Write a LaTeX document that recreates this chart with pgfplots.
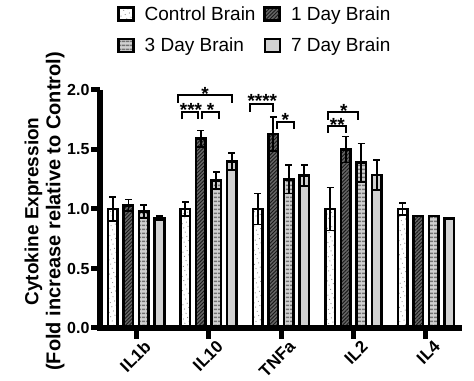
\documentclass[border=0pt]{standalone}
\usepackage{fontspec}
\setmainfont{Liberation Sans}
\usepackage{pgfplots}
\pgfplotsset{compat=1.18}
\usetikzlibrary{patterns.meta}

\begin{document}
\begin{tikzpicture}
\begin{axis}[
  name=ax,
  scale only axis, width=362pt, height=238pt,
  ybar=6pt, bar width=9.5pt,
  xmin=-0.5, xmax=4.5, ymin=0, ymax=2,
  axis x line=bottom, axis y line=left,
  axis line style={draw=none, -},
  xtick={0,1,2,3,4}, xticklabels={IL1b,IL10,TNFa,IL2,IL4},
  ytick={0,0.5,1,1.5,2},
  yticklabel style={/pgf/number format/fixed, /pgf/number format/fixed zerofill, /pgf/number format/precision=1, /pgf/number format/assume math mode=true, font=\bfseries\fontsize{16}{16}\selectfont},
  xticklabel style={xshift=7pt, yshift=-3pt, rotate=45, anchor=north east, font=\bfseries\fontsize{17}{17}\selectfont, inner sep=1pt},
  major tick length=7pt, tick align=outside,
  tick style={draw=none},
  ylabel={{\fontsize{19}{22}\selectfont Cytokine Expression}\\{\fontsize{20}{22}\selectfont (Fold increase relative to Control)}},
  ylabel style={at={(axis description cs:-0.088,0.49)}, anchor=south, align=center, font=\bfseries\fontsize{19}{22}\selectfont},
  clip=false,
  error bars/y dir=both, error bars/y explicit,
  error bars/error bar style={line width=1.8pt, black},
  error bars/error mark options={rotate=90, mark size=3.5pt, line width=1.8pt, black},
  legend columns=2,
  legend cell align=left,
  legend style={at={(axis description cs:0.047,1.36)}, anchor=north west, draw=none, fill=none, inner sep=0pt, font=\fontsize{19}{22}\selectfont, row sep=12pt, /tikz/every even column/.append style={column sep=6pt}},
  legend image code/.code={\draw[#1, line width=2.4pt] (0pt,-6.5pt) rectangle (15pt,6.5pt); \path (23pt,0pt);},
]
% Control Brain
\addplot[draw=black, line width=2.6pt, preaction={fill=white}, pattern={Dots[distance=4.5pt, radius=0.6pt, angle=20]}, pattern color=black!45]
  coordinates {(0,1.00) +- (0,0.10) (1,1.00) +- (0,0.06) (2,1.00) +- (0,0.13) (3,1.00) +- (0,0.18) (4,1.00) +- (0,0.05)};
% 1 Day Brain
\addplot[draw=black, line width=2.6pt, preaction={fill=black!60}, pattern={Lines[angle=45, distance=2.6pt, line width=0.9pt]}, pattern color=black!90]
  coordinates {(0,1.03) +- (0,0.05) (1,1.59) +- (0,0.07) (2,1.63) +- (0,0.14) (3,1.50) +- (0,0.11) (4,0.94) +- (0,0.0)};
% 3 Day Brain
\addplot[draw=black, line width=2.6pt, preaction={fill=black!18}, pattern={Lines[angle=0, distance=4pt, line width=1.8pt]}, pattern color=black!55]
  coordinates {(0,0.98) +- (0,0.055) (1,1.24) +- (0,0.07) (2,1.25) +- (0,0.12) (3,1.39) +- (0,0.16) (4,0.94) +- (0,0.0)};
% 7 Day Brain
\addplot[draw=black, line width=2.6pt, fill=black!18]
  coordinates {(0,0.925) +- (0,0.015) (1,1.40) +- (0,0.07) (2,1.28) +- (0,0.09) (3,1.285) +- (0,0.125) (4,0.92) +- (0,0.0)};
\legend{Control Brain, 1 Day Brain, 3 Day Brain, 7 Day Brain}

% axis lines and ticks
\draw[line width=5.5pt, line join=miter] (axis cs:-0.5,2) -- (axis cs:-0.5,0) -- (axis cs:4.5,0);
\pgfplotsinvokeforeach{0,0.5,1,1.5,2}{\draw[line width=5pt] (axis cs:-0.5,#1) -- ++(-9pt,0pt);}
\pgfplotsinvokeforeach{0,1,2,3,4}{\draw[line width=5pt] (axis cs:#1,0) -- ++(0pt,-11pt);}

% significance brackets
\draw[line width=2.2pt] (axis cs:0.5815,1.891) -- (axis cs:0.5815,1.958) -- (axis cs:1.327,1.958) -- (axis cs:1.327,1.891);
\draw[line width=2.2pt] (axis cs:0.628,1.754) -- (axis cs:0.628,1.813) -- (axis cs:0.858,1.813) -- (axis cs:0.858,1.754);
\draw[line width=2.2pt] (axis cs:0.913,1.754) -- (axis cs:0.913,1.813) -- (axis cs:1.144,1.813) -- (axis cs:1.144,1.754);
\draw[line width=2.2pt] (axis cs:1.572,1.818) -- (axis cs:1.572,1.882) -- (axis cs:1.894,1.882) -- (axis cs:1.894,1.818);
\draw[line width=2.2pt] (axis cs:1.941,1.670) -- (axis cs:1.941,1.729) -- (axis cs:2.180,1.729) -- (axis cs:2.180,1.670);
\draw[line width=2.2pt] (axis cs:2.649,1.748) -- (axis cs:2.649,1.813) -- (axis cs:3.068,1.813) -- (axis cs:3.068,1.748);
\draw[line width=2.2pt] (axis cs:2.653,1.641) -- (axis cs:2.653,1.700) -- (axis cs:2.898,1.700) -- (axis cs:2.898,1.641);
\begin{scope}[every node/.style={anchor=base, inner sep=0pt, font=\bfseries\fontsize{19}{19}\selectfont}]
\node at (axis cs:0.950,1.908) {*};
\node at (axis cs:0.757,1.777) {***};
\node at (axis cs:1.026,1.777) {*};
\node at (axis cs:1.742,1.857) {****};
\node at (axis cs:2.059,1.697) {*};
\node at (axis cs:2.866,1.769) {*};
\node at (axis cs:2.778,1.655) {**};
\end{scope}
\end{axis}
\pgfresetboundingbox
\path ([xshift=-100pt,yshift=-53pt]ax.south west) rectangle ([xshift=12pt,yshift=90pt]ax.north east);
\end{tikzpicture}
\end{document}
